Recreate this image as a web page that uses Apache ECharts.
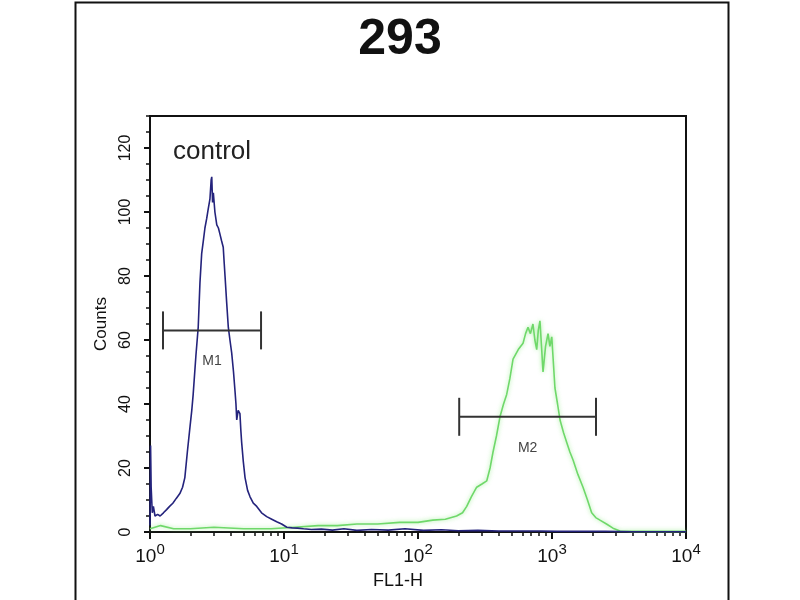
<!DOCTYPE html>
<html>
<head>
<meta charset="utf-8">
<script src="https://cdn.jsdelivr.net/npm/echarts@6/dist/echarts.min.js"></script>
<style>
html,body{margin:0;padding:0;background:#fff;}
#chart{width:800px;height:600px;}
</style>
</head>
<body>
<div id="chart"></div>
<script>
// ---- data ----
const chartTitle = '293';
const annotation = 'control';
const xName = 'FL1-H';
const yName = 'Counts';

const xMajorTicks = [1, 10, 100, 1000, 10000];
const yMajorTicks = [0, 20, 40, 60, 80, 100, 120];

const blueX = [1.00, 1.01, 1.02, 1.04, 1.06, 1.09, 1.14, 1.19, 1.26, 1.33, 1.40, 1.48, 1.57, 1.67, 1.75, 1.82, 1.90, 1.99, 2.05, 2.10, 2.20, 2.29, 2.36, 2.43, 2.50, 2.57, 2.65, 2.72, 2.80, 2.86, 2.89, 2.93, 2.97, 3.05, 3.15, 3.24, 3.33, 3.42, 3.52, 3.58, 3.63, 3.73, 3.84, 3.95, 4.07, 4.20, 4.31, 4.38, 4.44, 4.55, 4.69, 4.76, 4.83, 4.97, 5.12, 5.35, 5.58, 5.90, 6.26, 6.80, 7.43, 8.10, 8.82, 9.60, 10.5, 11.5, 12.6, 14, 16, 19, 23, 28, 35, 45, 60, 80, 110, 150, 200, 280, 400, 550, 800, 1100, 1600, 2500, 4000, 6500, 10000];
const blueY = [2, 27, 14, 6, 8, 5, 5.5, 5, 6, 7, 8, 9, 10.5, 12, 14, 17, 25, 33, 38, 43, 55, 64, 78, 87, 91, 95, 98, 101, 104, 110, 111, 103, 106, 100, 96, 95, 93, 91, 89, 84, 80, 72, 64, 60, 56, 50, 44, 40, 35, 38, 37, 32, 28, 22, 17, 13, 11, 9, 8, 6, 4.8, 4, 3.2, 2.5, 1.5, 1.3, 1.2, 1.0, 0.8, 0.9, 0.6, 1.0, 0.5, 0.8, 0.6, 1.0, 0.5, 0.7, 0.4, 0.5, 0.3, 0.3, 0.3, 0.2, 0.2, 0.2, 0.1, 0.1, 0.1];

const greenX = [1.0, 1.2, 1.5, 2, 3, 5, 8, 12, 18, 25, 35, 50, 73, 100, 129, 160, 194, 215, 231, 250, 274, 300, 326, 345, 363, 385, 409, 435, 459, 485, 512, 560, 608, 635, 662, 690, 721, 745, 769, 790, 813, 835, 857, 895, 934, 965, 996, 1052, 1100, 1148, 1220, 1288, 1360, 1436, 1560, 1704, 1840, 1977, 2120, 2280, 2550, 2852, 3215, 4000, 6000, 10000];
const greenY = [1, 2, 1, 1, 1.5, 1, 1, 1.5, 2, 2, 2.5, 2.5, 3, 3, 3.7, 4, 5, 6, 8, 11, 14, 15, 16, 20, 25, 30, 36, 40, 43, 48, 54, 57, 59, 62, 64, 62, 65, 60, 57, 63, 66, 58, 50, 58, 62, 58, 61, 45, 40, 35, 31, 28, 25, 22.5, 18, 14, 10, 6, 4.5, 3.7, 2.5, 1.2, 0.3, 0.2, 0.2, 0.2];

const gateLabels = ['M1', 'M2'];
const gateStart = [1.25, 203];
const gateEnd = [6.74, 2130];
const gateLevel = [63, 36];

// ---- derived ----
const xMinorTicks = [];
for (let d = 0; d < 4; d++) {
  for (let m = 2; m <= 9; m++) xMinorTicks.push(m * Math.pow(10, d));
}
const blueData = blueX.map((x, i) => [x, blueY[i]]);
const greenData = greenX.map((x, i) => [x, greenY[i]]);
const gateData = gateLabels.map((l, i) => [gateStart[i], gateEnd[i], gateLevel[i], l]);

const FONT = '"Liberation Sans", Arial, sans-serif';
const chart = echarts.init(document.getElementById('chart'), null, {renderer: 'canvas'});

chart.setOption({
  backgroundColor: '#ffffff',
  animation: false,
  title: {
    text: chartTitle, left: 'center', top: 10,
    textStyle: {fontFamily: FONT, fontSize: 50, fontWeight: 'bold', color: '#111'}
  },
  graphic: [
    {type: 'rect', left: 73, top: 0, shape: {width: 653, height: 640},
     style: {fill: 'none', stroke: '#111', lineWidth: 2}, z: 100, silent: true},
    {type: 'text', left: 173, top: 139,
     style: {text: annotation, font: '26px ' + FONT, fill: '#222'}, z: 100}
  ],
  grid: {left: 150, right: 114, top: 116, bottom: 68, show: true,
         borderColor: '#111', borderWidth: 2, backgroundColor: '#fff'},
  xAxis: [
    {
      type: 'log', logBase: 10, min: 1, max: 10000,
      name: xName, nameLocation: 'middle', nameGap: 40,
      nameTextStyle: {fontFamily: FONT, fontSize: 18, color: '#111', padding: [0, 40, 0, 0]},
      axisLine: {show: true, lineStyle: {color: '#111', width: 2}},
      axisTick: {show: true, customValues: xMajorTicks, length: 7, lineStyle: {color: '#111', width: 2}},
      axisLabel: {
        customValues: xMajorTicks, margin: 10,
        formatter: v => '{b|10}{e|' + Math.round(Math.log10(v)) + '}',
        rich: {
          b: {fontFamily: FONT, fontSize: 19, color: '#111'},
          e: {fontFamily: FONT, fontSize: 15, color: '#111', padding: [0, 0, 14, 0]}
        }
      },
      splitLine: {show: false}
    },
    {
      type: 'log', logBase: 10, min: 1, max: 10000, gridIndex: 0, position: 'bottom',
      axisLine: {show: false},
      axisTick: {show: true, customValues: xMinorTicks, length: 4, lineStyle: {color: '#111', width: 1.5}},
      axisLabel: {show: false},
      splitLine: {show: false}
    }
  ],
  yAxis: [
    {
      type: 'value', min: 0, max: 130,
      name: yName, nameLocation: 'middle', nameGap: 40,
      nameTextStyle: {fontFamily: FONT, fontSize: 17, color: '#111'},
      axisLine: {show: true, lineStyle: {color: '#111', width: 2}},
      axisTick: {show: true, customValues: yMajorTicks, length: 6, lineStyle: {color: '#111', width: 2}},
      axisLabel: {customValues: yMajorTicks, rotate: 90, margin: 16,
                  fontFamily: FONT, fontSize: 16, color: '#111'},
      splitLine: {show: false}
    },
    {
      type: 'value', min: 0, max: 130, interval: 5, position: 'left',
      axisLine: {show: false},
      axisTick: {show: true, length: 4, lineStyle: {color: '#111', width: 1.5}},
      axisLabel: {show: false},
      splitLine: {show: false}
    }
  ],
  series: [
    {
      type: 'line', data: greenData, xAxisIndex: 0, yAxisIndex: 0,
      showSymbol: false, symbol: 'none',
      lineStyle: {color: '#6fd86a', width: 1.6, shadowBlur: 4, shadowColor: 'rgba(140,235,130,0.8)'},
      z: 3
    },
    {
      type: 'line', data: blueData, xAxisIndex: 0, yAxisIndex: 0,
      showSymbol: false, symbol: 'none',
      lineStyle: {color: '#24237c', width: 1.6},
      z: 4
    },
    {
      type: 'custom', xAxisIndex: 0, yAxisIndex: 0, data: gateData, z: 5,
      encode: {x: [0, 1], y: 2},
      renderItem: function (params, api) {
        const p1 = api.coord([api.value(0), api.value(2)]);
        const p2 = api.coord([api.value(1), api.value(2)]);
        const cap = 19;
        const st = {stroke: '#333', lineWidth: 2};
        return {
          type: 'group',
          children: [
            {type: 'line', shape: {x1: p1[0], y1: p1[1], x2: p2[0], y2: p2[1]}, style: st},
            {type: 'line', shape: {x1: p1[0], y1: p1[1] - cap, x2: p1[0], y2: p1[1] + cap}, style: st},
            {type: 'line', shape: {x1: p2[0], y1: p2[1] - cap, x2: p2[0], y2: p2[1] + cap}, style: st},
            {type: 'text', x: (p1[0] + p2[0]) / 2, y: p1[1] + 31,
             style: {text: gateData[params.dataIndex][3], font: '14px ' + FONT, fill: '#444',
                     align: 'center', verticalAlign: 'middle'}}
          ]
        };
      }
    }
  ]
});
</script>
</body>
</html>
